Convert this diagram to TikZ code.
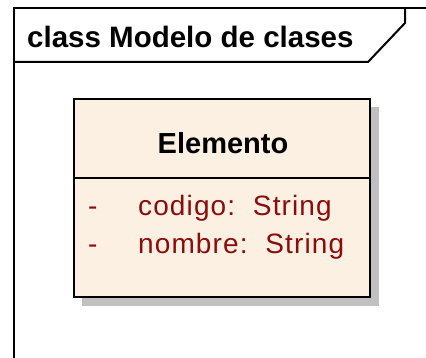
\documentclass[tikz,border=0pt]{standalone}
\usepackage{fontspec}
\setmainfont{Liberation Sans}
\newfontfamily\attrfont[LetterSpace=4]{Liberation Sans}
\definecolor{boxfill}{RGB}{251,240,226}
\definecolor{attrred}{RGB}{140,12,12}
\definecolor{shadowgray}{RGB}{192,192,192}
\begin{document}
\begin{tikzpicture}[x=1pt,y=-1pt,
  frameline/.style={line width=2pt,black},
  classbox/.style={draw=black,line width=2pt,fill=boxfill,rectangle,inner sep=0pt,minimum width=296pt,minimum height=198pt},
  titletext/.style={font=\fontsize{29.5}{32}\selectfont\bfseries,inner sep=0pt,anchor=west},
  nametext/.style={font=\fontsize{29}{32}\selectfont\bfseries,inner sep=0pt},
  attrtext/.style={font=\attrfont\fontsize{28}{31}\selectfont,text=attrred,inner sep=0pt,anchor=base west}]
\useasboundingbox (0,0) rectangle (426,358);
% frame
\draw[frameline] (14,365) -- (14,8) -- (432,8);
\draw[frameline] (14,62) -- (368,62) -- (405,23) -- (405,8);
\node[titletext] (title) at (27,37) {class Modelo de clases};
% class shadow and box
\fill[shadowgray] (82,107) rectangle (379,306);
\node[classbox] (elemento) at (222,198) {};
\draw[line width=2pt] (elemento.west |- 0,178) -- (elemento.east |- 0,178);
\node[nametext] (name) at (223,143) {Elemento};
\node[attrtext] (dash1) at (88,216) {-};
\node[attrtext] (attr1) at (138,216) {codigo:\ \ String};
\node[attrtext] (dash2) at (88,254) {-};
\node[attrtext] (attr2) at (138,254) {nombre:\ \ String};
\end{tikzpicture}
\end{document}
